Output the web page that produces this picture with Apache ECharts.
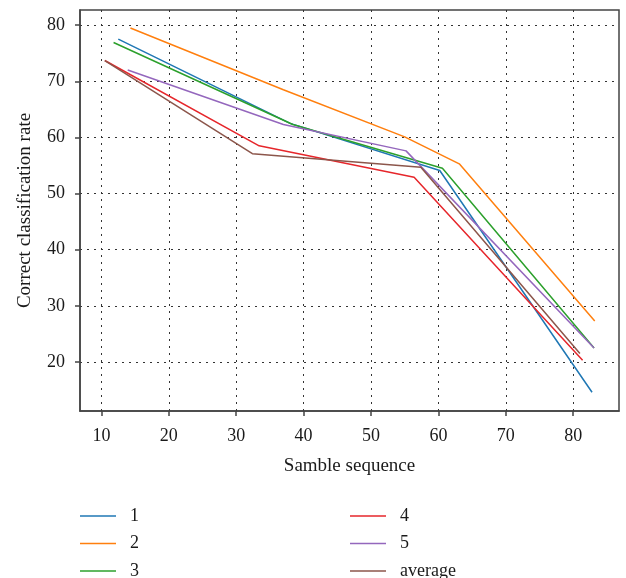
<!DOCTYPE html>
<html>
<head>
<meta charset="utf-8">
<script src="https://cdn.jsdelivr.net/npm/echarts@6/dist/echarts.min.js"></script>
<style>
  html, body { margin: 0; padding: 0; background: #fff; }
  #main { width: 626px; height: 578px; }
</style>
</head>
<body>
<div id="main"></div>
<script>
// data: [sample sequence, rate]
const s1 = [[12.5, 77.5], [38, 62.5], [60.2, 54.1], [82.8, 14.6]]
const s2 = [[14.3, 79.5], [37, 68.5], [55, 60.1], [63.1, 55.3], [83.2, 27.3]]
const s3 = [[11.8, 76.9], [38.4, 62.3], [60.6, 54.5], [83.1, 22.5]]
const s4 = [[10.5, 73.7], [33.4, 58.5], [56.4, 52.9], [81.4, 20.3]]
const s5 = [[13.9, 72.0], [37, 62.3], [55.2, 57.6], [83.1, 22.5]]
const sAvg = [[10.5, 73.7], [32.4, 57.1], [57.4, 54.7], [81, 21.5]]

const names = ['1', '2', '3', '4', '5', 'average']
const colors = ['#1f77b4', '#ff7f0e', '#2ca02c', '#e6262b', '#9467bd', '#8c564b']
const xTicks = [10, 20, 30, 40, 50, 60, 70, 80]
const yTicks = [20, 30, 40, 50, 60, 70, 80]

const myChart = echarts.init(document.getElementById('main'))

const font = 'Liberation Serif'
const gridLine = { show: true, lineStyle: { color: '#333', type: [2, 5], width: 1 } }

const legendBase = {
  orient: 'vertical',
  icon: 'rect',
  padding: 0,
  height: 80,
  itemWidth: 36,
  itemHeight: 1.5,
  itemGap: 9.5,
  textStyle: { fontFamily: font, fontSize: 18, color: '#1a1a1a', padding: [0, 0, 0, 9], lineHeight: 18 },
}

var option = {
  animation: false,
  color: colors,
  grid: {
    left: 80, top: 10, right: 7, bottom: 167,
    show: true, borderColor: '#444', borderWidth: 1.5,
  },
  legend: [
    Object.assign({}, legendBase, { data: ['1', '2', '3'], left: 80, top: 507 }),
    Object.assign({}, legendBase, { data: ['4', '5', 'average'], left: 350, top: 507 }),
  ],
  xAxis: {
    type: 'value',
    min: 6.82,
    max: 86.8,
    name: 'Samble sequence',
    nameLocation: 'middle',
    nameGap: 46,
    nameTextStyle: { fontFamily: font, fontSize: 19, color: '#1a1a1a' },
    axisLine: { show: true, lineStyle: { color: '#444', width: 1.5 } },
    axisTick: { show: true, length: 5, customValues: xTicks, lineStyle: { color: '#444', width: 1.5 } },
    axisLabel: { customValues: xTicks, margin: 16, fontFamily: font, fontSize: 18, color: '#1a1a1a' },
    splitLine: gridLine,
  },
  yAxis: {
    type: 'value',
    min: 11.26,
    max: 82.7,
    name: 'Correct classification rate',
    nameLocation: 'middle',
    nameGap: 45,
    nameTextStyle: { fontFamily: font, fontSize: 19, color: '#1a1a1a' },
    axisLine: { show: true, lineStyle: { color: '#444', width: 1.5 } },
    axisTick: { show: true, length: 5, customValues: yTicks, lineStyle: { color: '#444', width: 1.5 } },
    axisLabel: { customValues: yTicks, margin: 15, fontFamily: font, fontSize: 18, color: '#1a1a1a' },
    splitLine: gridLine,
  },
  series: [s1, s2, s3, s4, s5, sAvg].map((d, i) => ({
    name: names[i],
    type: 'line',
    data: d,
    symbol: 'none',
    lineStyle: { width: 1.5 },
  })),
}

myChart.setOption(option)
</script>
</body>
</html>
